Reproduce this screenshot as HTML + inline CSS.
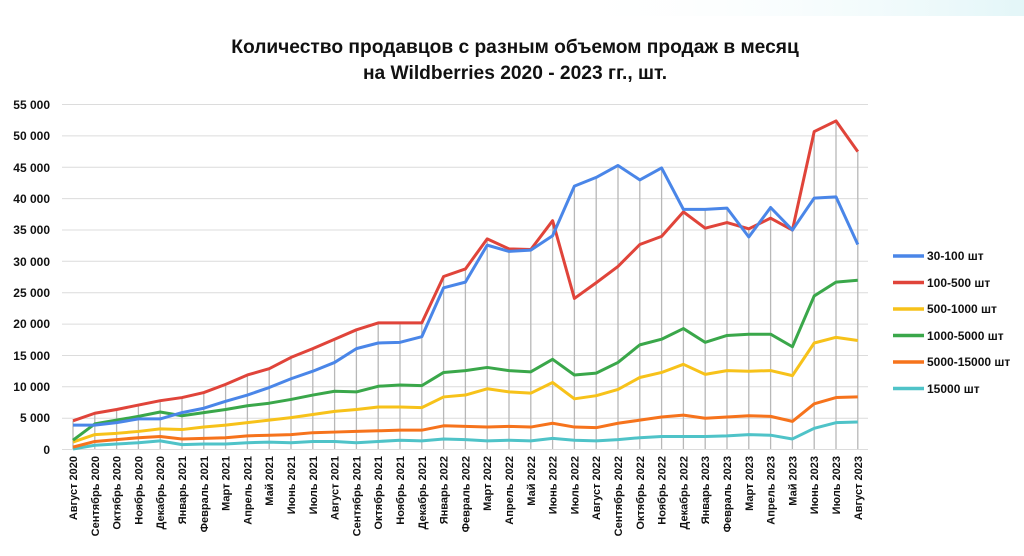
<!DOCTYPE html>
<html><head><meta charset="utf-8"><style>
html,body{margin:0;padding:0;background:#fff;}
svg{display:block;font-family:"Liberation Sans",sans-serif;}
</style></head><body>
<svg width="1024" height="556" viewBox="0 0 1024 556" xmlns="http://www.w3.org/2000/svg">
<defs><linearGradient id="tg" x1="0" x2="1"><stop offset="0" stop-color="#fff" stop-opacity="0"/><stop offset="1" stop-color="#e3f6f8"/></linearGradient></defs>
<rect x="560" y="0" width="464" height="16" fill="url(#tg)"/>
<text x="515" y="53" text-anchor="middle" font-size="19.2" font-weight="bold" fill="#111">Количество продавцов с разным объемом продаж в месяц</text>
<text x="515" y="79" text-anchor="middle" font-size="19.2" font-weight="bold" fill="#111">на Wildberries 2020 - 2023 гг., шт.</text>
<g stroke="#dcdcdc" stroke-width="1">
<line x1="62" x2="868" y1="104.5" y2="104.5"/><line x1="62" x2="868" y1="135.9" y2="135.9"/><line x1="62" x2="868" y1="167.2" y2="167.2"/><line x1="62" x2="868" y1="198.6" y2="198.6"/><line x1="62" x2="868" y1="230" y2="230"/><line x1="62" x2="868" y1="261.3" y2="261.3"/><line x1="62" x2="868" y1="292.7" y2="292.7"/><line x1="62" x2="868" y1="324.1" y2="324.1"/><line x1="62" x2="868" y1="355.5" y2="355.5"/><line x1="62" x2="868" y1="386.8" y2="386.8"/><line x1="62" x2="868" y1="418.2" y2="418.2"/><line x1="62" x2="868" y1="449.5" y2="449.5"/>
</g>
<g font-size="12" font-weight="bold" fill="#111" text-anchor="end">
<text x="50" y="109">55 000</text><text x="50" y="140">50 000</text><text x="50" y="172">45 000</text><text x="50" y="203">40 000</text><text x="50" y="234">35 000</text><text x="50" y="266">30 000</text><text x="50" y="297">25 000</text><text x="50" y="328">20 000</text><text x="50" y="360">15 000</text><text x="50" y="391">10 000</text><text x="50" y="422">5 000</text><text x="50" y="454">0</text>
</g>
<g transform="translate(73,449) scale(21.8,-6.273)" fill="none" stroke-linejoin="round">
<path vector-effect="non-scaling-stroke" stroke="#b8b8b8" stroke-width="1.3" d="M0,4.5V0M1,5.7V0M2,6.3V0M3,7V0M4,7.7V0M5,8.2V0M6,9V0M7,10.3V0M8,11.8V0M9,12.8V0M10,14.6V0M11,16V0M12,17.5V0M13,19V0M14,20.1V0M15,20.1V0M16,20.1V0M17,27.5V0M18,28.7V0M19,33.5V0M20,31.9V0M21,31.8V0M22,36.4V0M23,41.9V0M24,43.3V0M25,45.2V0M26,42.9V0M27,44.8V0M28,38.2V0M29,38.2V0M30,38.4V0M31,35.1V0M32,38.5V0M33,34.9V0M34,50.6V0M35,52.3V0M36,47.4V0"/>
<polyline vector-effect="non-scaling-stroke" stroke="#4fc3c8" stroke-width="3" points="0,0 1,0.6 2,0.8 3,1 4,1.3 5,0.7 6,0.8 7,0.8 8,1 9,1.1 10,1 11,1.2 12,1.2 13,1 14,1.2 15,1.4 16,1.3 17,1.6 18,1.5 19,1.3 20,1.4 21,1.3 22,1.7 23,1.4 24,1.3 25,1.5 26,1.8 27,2 28,2 29,2 30,2.1 31,2.3 32,2.2 33,1.6 34,3.3 35,4.2 36,4.3"/>
<polyline vector-effect="non-scaling-stroke" stroke="#f6731c" stroke-width="3" points="0,0.3 1,1.2 2,1.5 3,1.8 4,2 5,1.6 6,1.7 7,1.8 8,2.1 9,2.2 10,2.3 11,2.6 12,2.7 13,2.8 14,2.9 15,3 16,3 17,3.7 18,3.6 19,3.5 20,3.6 21,3.5 22,4.1 23,3.5 24,3.4 25,4.1 26,4.6 27,5.1 28,5.4 29,4.9 30,5.1 31,5.3 32,5.2 33,4.4 34,7.2 35,8.2 36,8.3"/>
<polyline vector-effect="non-scaling-stroke" stroke="#f7c21a" stroke-width="3" points="0,1.1 1,2.3 2,2.5 3,2.8 4,3.2 5,3.1 6,3.5 7,3.8 8,4.2 9,4.6 10,5 11,5.5 12,6 13,6.3 14,6.7 15,6.7 16,6.6 17,8.3 18,8.6 19,9.6 20,9.1 21,8.9 22,10.6 23,8 24,8.5 25,9.5 26,11.4 27,12.2 28,13.5 29,11.9 30,12.5 31,12.4 32,12.5 33,11.7 34,16.9 35,17.8 36,17.3"/>
<polyline vector-effect="non-scaling-stroke" stroke="#3aa74a" stroke-width="3" points="0,1.4 1,4 2,4.6 3,5.2 4,5.9 5,5.3 6,5.8 7,6.3 8,6.9 9,7.3 10,7.9 11,8.6 12,9.2 13,9.1 14,10 15,10.2 16,10.1 17,12.2 18,12.5 19,13 20,12.5 21,12.3 22,14.3 23,11.8 24,12.1 25,13.8 26,16.6 27,17.5 28,19.2 29,17 30,18.1 31,18.3 32,18.3 33,16.3 34,24.4 35,26.6 36,26.9"/>
<polyline vector-effect="non-scaling-stroke" stroke="#e0443a" stroke-width="3" points="0,4.5 1,5.7 2,6.3 3,7 4,7.7 5,8.2 6,9 7,10.3 8,11.8 9,12.8 10,14.6 11,16 12,17.5 13,19 14,20.1 15,20.1 16,20.1 17,27.5 18,28.7 19,33.5 20,31.9 21,31.8 22,36.4 23,24 24,26.5 25,29.1 26,32.6 27,33.9 28,37.8 29,35.2 30,36.1 31,35.1 32,36.8 33,34.9 34,50.6 35,52.3 36,47.4"/>
<polyline vector-effect="non-scaling-stroke" stroke="#4a86e8" stroke-width="3" points="0,3.8 1,3.8 2,4.2 3,4.8 4,4.8 5,5.8 6,6.5 7,7.6 8,8.6 9,9.8 10,11.2 11,12.4 12,13.8 13,16 14,16.9 15,17 16,17.9 17,25.7 18,26.6 19,32.5 20,31.5 21,31.7 22,34 23,41.9 24,43.3 25,45.2 26,42.9 27,44.8 28,38.2 29,38.2 30,38.4 31,33.8 32,38.5 33,34.9 34,40 35,40.2 36,32.6"/>
</g>
<g transform="rotate(-90)" font-size="11" font-weight="bold" fill="#111" text-anchor="end">
<text x="-456" y="77">Август 2020</text><text x="-456" y="98.8">Сентябрь 2020</text><text x="-456" y="120.6">Октябрь 2020</text><text x="-456" y="142.4">Ноябрь 2020</text><text x="-456" y="164.2">Декабрь 2020</text><text x="-456" y="186">Январь 2021</text><text x="-456" y="207.8">Февраль 2021</text><text x="-456" y="229.6">Март 2021</text><text x="-456" y="251.4">Апрель 2021</text><text x="-456" y="273.2">Май 2021</text><text x="-456" y="295">Июнь 2021</text><text x="-456" y="316.8">Июль 2021</text><text x="-456" y="338.6">Август 2021</text><text x="-456" y="360.4">Сентябрь 2021</text><text x="-456" y="382.2">Октябрь 2021</text><text x="-456" y="404">Ноябрь 2021</text><text x="-456" y="425.8">Декабрь 2021</text><text x="-456" y="447.6">Январь 2022</text><text x="-456" y="469.4">Февраль 2022</text><text x="-456" y="491.2">Март 2022</text><text x="-456" y="513">Апрель 2022</text><text x="-456" y="534.8">Май 2022</text><text x="-456" y="556.6">Июнь 2022</text><text x="-456" y="578.4">Июль 2022</text><text x="-456" y="600.2">Август 2022</text><text x="-456" y="622">Сентябрь 2022</text><text x="-456" y="643.8">Октябрь 2022</text><text x="-456" y="665.6">Ноябрь 2022</text><text x="-456" y="687.4">Декабрь 2022</text><text x="-456" y="709.2">Январь 2023</text><text x="-456" y="731">Февраль 2023</text><text x="-456" y="752.8">Март 2023</text><text x="-456" y="774.6">Апрель 2023</text><text x="-456" y="796.4">Май 2023</text><text x="-456" y="818.2">Июнь 2023</text><text x="-456" y="840">Июль 2023</text><text x="-456" y="861.8">Август 2023</text>
</g>
<g stroke-width="3.5">
<line x1="893" x2="924" y1="256" y2="256" stroke="#4a86e8"/>
<line x1="893" x2="924" y1="282.5" y2="282.5" stroke="#e0443a"/>
<line x1="893" x2="924" y1="309" y2="309" stroke="#f7c21a"/>
<line x1="893" x2="924" y1="335.5" y2="335.5" stroke="#3aa74a"/>
<line x1="893" x2="924" y1="362" y2="362" stroke="#f6731c"/>
<line x1="893" x2="924" y1="388.5" y2="388.5" stroke="#4fc3c8"/>
</g>
<g font-size="12" font-weight="bold" fill="#111">
<text x="927" y="260">30-100 шт</text>
<text x="927" y="287">100-500 шт</text>
<text x="927" y="313">500-1000 шт</text>
<text x="927" y="340">1000-5000 шт</text>
<text x="927" y="366">5000-15000 шт</text>
<text x="927" y="393">15000 шт</text>
</g>
</svg>
</body></html>
